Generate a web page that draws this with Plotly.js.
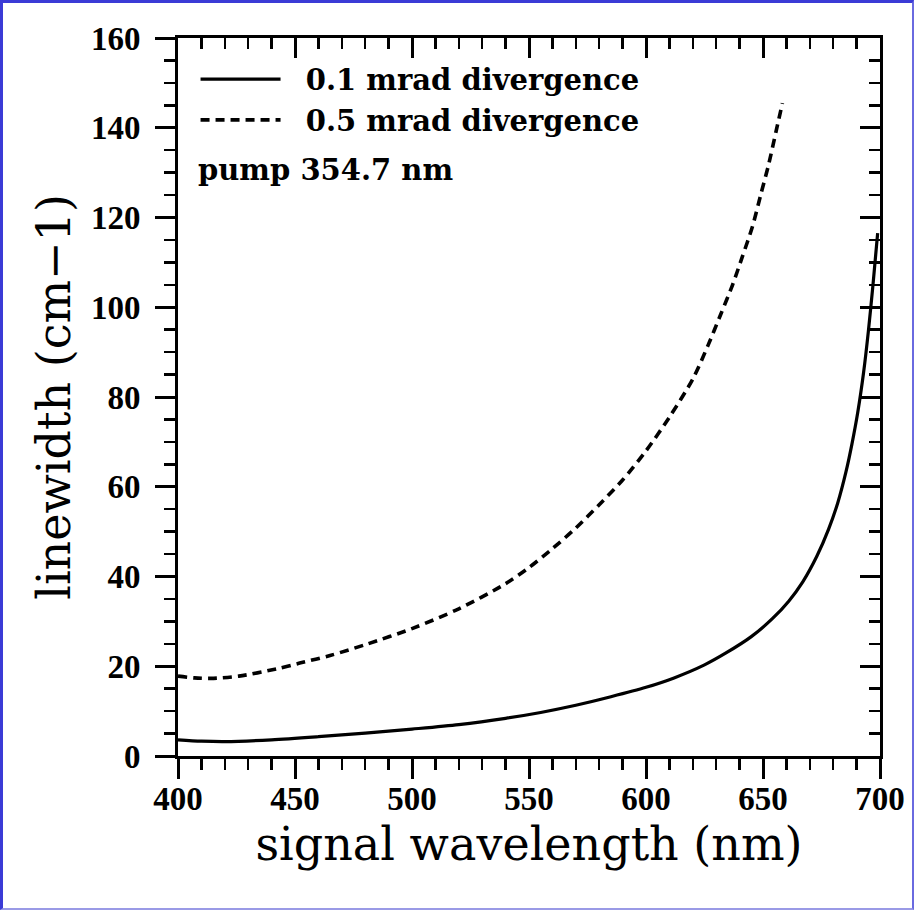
<!DOCTYPE html>
<html>
<head>
<meta charset="utf-8">
<script src="https://cdn.plot.ly/plotly-3.0.1.min.js"></script>
<style>
  html, body { margin: 0; padding: 0; background: #ffffff; }
  #wrap { position: relative; width: 914px; height: 910px; }
  #frame { position: absolute; left: 0; top: 0; width: 914px; height: 910px; box-sizing: border-box;
           border-top: 3px solid #3b3bd6; border-left: 3px solid #3b3bd6;
           border-bottom: 2px solid #9a9ae6; border-right: 2px solid #6a6ae0; pointer-events: none; }
</style>
</head>
<body>
<div id="wrap">
  <div id="chart" style="width:914px;height:910px;"></div>
  <div id="frame"></div>
</div>
<script>
// 0.1 mrad divergence (solid)
const wl_01 = [400, 410, 420, 440, 460, 480, 500, 520, 540, 555, 570, 585, 600, 612, 625, 634, 645, 654, 661, 667, 673, 678, 682, 685.5, 688, 690.5, 693, 695, 697, 699];
const lw_01 = [3.6, 3.3, 3.2, 3.6, 4.3, 5.1, 6.0, 7.0, 8.4, 9.7, 11.3, 13.2, 15.3, 17.4, 20.3, 22.9, 26.6, 30.6, 34.5, 38.8, 44.5, 50.5, 56.5, 63.4, 69.5, 76.6, 85.5, 94.5, 105, 116.5];

// 0.5 mrad divergence (dashed)
const wl_05 = [400, 407, 414, 426, 442, 452, 465, 480, 500, 520, 540, 550, 560, 570, 580, 590, 600, 610, 620, 626.5, 632, 637, 641, 645.5, 649, 652.5, 655.5, 658.3];
const lw_05 = [17.8, 17.4, 17.3, 17.8, 19.4, 20.7, 22.4, 24.8, 28.4, 32.8, 38.4, 42.0, 46.2, 50.8, 56.0, 61.5, 68.0, 75.5, 84.0, 91.5, 98.5, 105, 111, 118, 125, 132, 139, 145.5];

const seriesNames = ["0.1 mrad divergence", "0.5 mrad divergence"];
const pad = "\u00a0\u00a0";
const xTicks = [400, 450, 500, 550, 600, 650, 700];
const yTicks = [0, 20, 40, 60, 80, 100, 120, 140, 160];

const tickFont = { family: "Liberation Serif", size: 33, color: "#000", weight: "bold" };
const titleFont = { family: "DejaVu Serif", size: 46, color: "#000" };
const legFont = { family: "DejaVu Serif", size: 29, color: "#000", weight: "bold" };

const traces = [
  { x: wl_01, y: lw_01, mode: "lines", name: pad + seriesNames[0], legendgroup: "a",
    line: { color: "#000", width: 3.2, shape: "spline", smoothing: 0.8 } },
  { x: wl_05, y: lw_05, mode: "lines", name: pad + seriesNames[1], legendgroup: "b",
    line: { color: "#000", width: 3.6, dash: "9px,6px", shape: "spline", smoothing: 0.8 } },
  { x: [], y: [], xaxis: "x2", yaxis: "y2", showlegend: false, hoverinfo: "skip" }
];

const baseAxis = {
  showline: true, linewidth: 3, linecolor: "#000", showgrid: false, zeroline: false,
  ticks: "outside", ticklen: 20, tickwidth: 3, tickcolor: "#000",
  tickfont: tickFont
};

const layout = {
  width: 914, height: 910,
  margin: { l: 178, r: 34, t: 38, b: 154 },
  paper_bgcolor: "#fff", plot_bgcolor: "#fff",
  showlegend: true,
  legend: { x: 0.025, y: 0.978, xanchor: "left", yanchor: "top", bgcolor: "rgba(0,0,0,0)",
            font: legFont, itemwidth: 80, tracegroupgap: 0 },
  xaxis: Object.assign({}, baseAxis, {
    range: [400, 700], tickvals: xTicks, ticktext: xTicks.map(String),
    minor: { dtick: 10, tick0: 400, ticks: "outside", ticklen: 11, tickwidth: 2.5, tickcolor: "#000" },
    ticklabelstandoff: -9,
    title: { text: "signal wavelength (nm)", font: titleFont, standoff: 0 }
  }),
  yaxis: Object.assign({}, baseAxis, {
    range: [0, 160], tickvals: yTicks, ticktext: yTicks.map(String),
    minor: { dtick: 5, tick0: 0, ticks: "outside", ticklen: 11, tickwidth: 2.5, tickcolor: "#000" },
    ticklabelstandoff: 8,
    title: { text: "linewidth (cm\u22121)", font: titleFont, standoff: 6 }
  }),
  xaxis2: {
    overlaying: "x", side: "top", anchor: "y2", range: [400, 700], showline: true, linewidth: 3, linecolor: "#000",
    showgrid: false, zeroline: false, showticklabels: false,
    ticks: "inside", tickvals: xTicks, ticklen: 20, tickwidth: 3, tickcolor: "#000",
    minor: { dtick: 10, tick0: 400, ticks: "inside", ticklen: 11, tickwidth: 2.5, tickcolor: "#000" }
  },
  yaxis2: {
    overlaying: "y", side: "right", anchor: "x2", range: [0, 160], showline: true, linewidth: 3, linecolor: "#000",
    showgrid: false, zeroline: false, showticklabels: false,
    ticks: "inside", tickvals: yTicks, ticklen: 20, tickwidth: 3, tickcolor: "#000",
    minor: { dtick: 5, tick0: 0, ticks: "inside", ticklen: 11, tickwidth: 2.5, tickcolor: "#000" }
  },
  annotations: [
    { xref: "paper", yref: "paper", x: 0.026, y: 0.816, xanchor: "left", yanchor: "middle", showarrow: false,
      text: "pump 354.7 nm", font: legFont }
  ]
};

Plotly.newPlot("chart", traces, layout, { displayModeBar: false, staticPlot: true });
</script>
</body>
</html>
